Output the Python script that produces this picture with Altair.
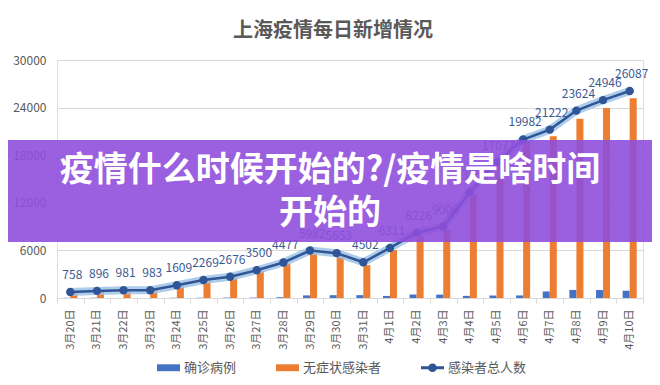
import altair as alt
import pandas as pd

dates = ["3月20日", "3月21日", "3月22日", "3月23日", "3月24日", "3月25日", "3月26日",
         "3月27日", "3月28日", "3月29日", "3月30日", "3月31日", "4月1日", "4月2日",
         "4月3日", "4月4日", "4月5日", "4月6日", "4月7日", "4月8日", "4月9日", "4月10日"]
confirmed = [24, 31, 4, 4, 29, 38, 45, 50, 96, 326, 355, 358, 260, 438, 425, 268,
             311, 322, 824, 1015, 1006, 914]
asymptomatic = [734, 865, 977, 979, 1580, 2231, 2631, 3450, 4381, 5656, 5298, 4144,
                6051, 7788, 8581, 13086, 16766, 19660, 20398, 22609, 23937, 25173]
totals = [758, 896, 981, 983, 1609, 2269, 2676, 3500, 4477, 5982, 5653, 4502, 6311,
          8226, 9006, 13354, 17077, 19982, 21222, 23624, 24946, 26087]
series_names = ["确诊病例", "无症状感染者", "感染者总人数"]
y_ticks = [0, 6000, 12000, 18000, 24000, 30000]
title_text = "上海疫情每日新增情况"
banner_lines = ["疫情什么时候开始的?/疫情是啥时间", "开始的"]

FONT = "Noto Sans CJK SC"
GRAY = "#595959"
GRID = "#d9d9d9"

bars_df = pd.DataFrame({
    "date": dates * 2,
    "series": [series_names[0]] * len(dates) + [series_names[1]] * len(dates),
    "value": confirmed + asymptomatic,
})
tot_df = pd.DataFrame({"date": dates, "value": totals})
legend_df = pd.DataFrame({"series": series_names})

x_enc = alt.X("date:N", sort=dates, title=None,
              scale=alt.Scale(paddingInner=0, paddingOuter=0),
              axis=alt.Axis(labelAngle=270, labelFontSize=11, labelColor=GRAY, labelFont=FONT,
                            domainColor=GRID, tickColor=GRID, tickSize=5, tickBand="extent",
                            labelPadding=6, grid=False))
y_enc = alt.Y("value:Q", title=None,
              scale=alt.Scale(domain=[0, 30000], nice=False),
              axis=alt.Axis(values=y_ticks, domain=False, ticks=False, gridColor=GRID,
                            labelFontSize=12, labelColor=GRAY, labelFont=FONT, labelPadding=11,
                            format="d"))

bars = alt.Chart(bars_df).mark_bar().encode(
    x=x_enc,
    xOffset=alt.XOffset("series:N", sort=series_names[:2],
                        scale=alt.Scale(domain=series_names[:2], paddingInner=0, paddingOuter=0.9)),
    y=y_enc,
    fill=alt.Fill("series:N", scale=alt.Scale(domain=series_names[:2], range=["#4472C4", "#ED7D31"]),
                  legend=None),
)

glow = alt.Chart(tot_df).mark_line(color="#9dc3e6", strokeWidth=8, opacity=0.85,
                                   strokeCap="round", strokeJoin="round").encode(x=x_enc, y=y_enc)
line = alt.Chart(tot_df).mark_line(color="#2f5597", strokeWidth=2.5).encode(x=x_enc, y=y_enc)
pts = alt.Chart(tot_df).mark_point(filled=True, color="#2f5597", size=70, opacity=1).encode(x=x_enc, y=y_enc)
labels = alt.Chart(tot_df).mark_text(dy=-17, dx=2, fontSize=12, color="#3a5a94", font=FONT).encode(
    x=x_enc, y=y_enc, text=alt.Text("value:Q", format="d"))

rect_path = "M-1,-0.3H1V0.3H-1Z"
line_path = "M-1,-0.13H1V0.13H-1Z M0.38,0A0.38,0.38,0,1,1,-0.38,0A0.38,0.38,0,1,1,0.38,0Z"
leg_common = dict(orient="none", legendX=100, legendY=296, direction="horizontal", title=None,
                  symbolSize=529, symbolStrokeWidth=0, labelFontSize=13, labelColor=GRAY,
                  labelFont=FONT, columnPadding=39, labelOffset=4, symbolOpacity=1)
leg = alt.Chart(legend_df).mark_point(filled=True).encode(
    color=alt.Color("series:N", scale=alt.Scale(domain=series_names, range=["#4472C4", "#ED7D31", "#2f5597"]),
                    legend=alt.Legend(**leg_common)),
    shape=alt.Shape("series:N", scale=alt.Scale(domain=series_names, range=[rect_path, rect_path, line_path]),
                    legend=alt.Legend(**leg_common)),
).transform_filter("false")

banner = alt.Chart(pd.DataFrame({"k": [0]})).mark_rect(color="#8f4fdc", opacity=0.9).encode(
    x=alt.value(-49), x2=alt.value(595), y=alt.value(80), y2=alt.value(182))
btext1 = alt.Chart(pd.DataFrame({"t": [banner_lines[0]]})).mark_text(
    fontSize=34, fontWeight="bold", color="white", font=FONT, align="center", baseline="middle").encode(
    x=alt.value(273), y=alt.value(111), text="t:N")
btext2 = alt.Chart(pd.DataFrame({"t": [banner_lines[1]]})).mark_text(
    fontSize=34, fontWeight="bold", color="white", font=FONT, align="center", baseline="middle").encode(
    x=alt.value(273), y=alt.value(154), text="t:N")

chart = alt.layer(bars, glow, line, pts, labels, leg, banner, btext1, btext2).properties(
    width=586, height=238,
    title=alt.TitleParams(text=title_text, fontSize=20, fontWeight="bold", color=GRAY, font=FONT,
                          anchor="middle", dx=-17, offset=13),
    autosize=alt.AutoSizeParams(type="none"),
    padding={"left": 49, "top": 52, "right": 9, "bottom": 78},
).configure_view(stroke=GRID, strokeWidth=1).configure(background="white")

chart.save("out.html", embed_options={"renderer": "svg", "actions": False})
